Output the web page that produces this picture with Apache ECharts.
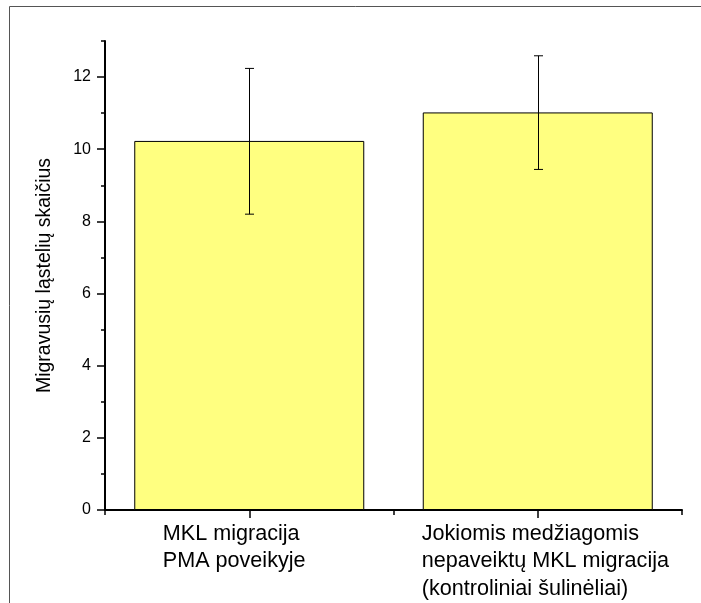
<!DOCTYPE html>
<html>
<head>
<meta charset="utf-8">
<script src="https://cdn.jsdelivr.net/npm/echarts@6/dist/echarts.min.js"></script>
<style>
html,body{margin:0;padding:0;background:#fff;}
#c{width:701px;height:603px;}
</style>
</head>
<body>
<div id="c"></div>
<script>
var categories = ['MKL migracija\nPMA poveikyje', 'Jokiomis medžiagomis\nnepaveiktų MKL migracija\n(kontroliniai šulinėliai)'];
var means = [10.23, 11.02];
var errLow = [8.20, 9.44];
var errHigh = [12.24, 12.59];
var yMajorTicks = [0, 2, 4, 6, 8, 10, 12];
var yTitle = 'Migravusių ląstelių skaičius';

var FONT = '"Liberation Sans", Arial, sans-serif';
var labelShift = [-86.5, -116];   // left edge of the left-aligned label block relative to its tick
var chart = echarts.init(document.getElementById('c'), null, {renderer: 'canvas'});

var errData = categories.map(function (c, i) { return [i, errLow[i], errHigh[i]]; });

var option = {
  backgroundColor: '#ffffff',
  animation: false,
  grid: {left: 105, right: 19, top: 41, bottom: 93, containLabel: false},
  xAxis: [{
    type: 'category',
    data: categories,
    axisLine: {show: true, lineStyle: {color: '#000', width: 2}},
    axisTick: {show: true, alignWithLabel: true, length: 8, lineStyle: {color: '#000', width: 1.5}},
    axisLabel: {show: false},
    splitLine: {show: false}
  }, {
    type: 'category',
    data: categories,
    position: 'bottom',
    axisLine: {show: false},
    axisTick: {show: true, alignWithLabel: false, length: 5, lineStyle: {color: '#000', width: 1.5}},
    axisLabel: {show: false},
    splitLine: {show: false}
  }],
  yAxis: [{
    type: 'value',
    min: 0, max: 13, interval: 1,
    name: yTitle,
    nameLocation: 'middle',
    nameGap: 50,
    nameRotate: 90,
    nameTextStyle: {color: '#000', fontFamily: FONT, fontSize: 19.5},
    axisLine: {show: true, lineStyle: {color: '#000', width: 2}},
    axisTick: {show: true, length: 4, lineStyle: {color: '#000', width: 1.5}},
    axisLabel: {show: false},
    splitLine: {show: false}
  }, {
    type: 'value',
    min: 0, max: 13,
    position: 'left',
    axisLine: {show: false},
    axisTick: {show: true, length: 8, customValues: yMajorTicks, lineStyle: {color: '#000', width: 1.5}},
    axisLabel: {show: true, customValues: yMajorTicks, color: '#000', fontFamily: FONT, fontSize: 16, margin: 14},
    splitLine: {show: false}
  }],
  series: [{
    type: 'bar',
    data: means,
    barWidth: 230,
    itemStyle: {color: '#ffff80', borderColor: '#000', borderWidth: 1},
    z: 2
  }, {
    type: 'custom',
    data: errData,
    z: 5,
    renderItem: function (params, api) {
      var x = api.value(0);
      var lo = api.coord([x, api.value(1)]);
      var hi = api.coord([x, api.value(2)]);
      var cx = Math.round(lo[0]) + 0.5;
      var hw = 4.5;
      var s = {stroke: '#000', lineWidth: 1};
      return {
        type: 'group',
        children: [
          {type: 'line', shape: {x1: cx, y1: hi[1], x2: cx, y2: lo[1]}, style: s},
          {type: 'line', shape: {x1: cx - hw, y1: hi[1], x2: cx + hw, y2: hi[1]}, style: s},
          {type: 'line', shape: {x1: cx - hw, y1: lo[1], x2: cx + hw, y2: lo[1]}, style: s}
        ]
      };
    }
  }]
};
chart.setOption(option);

// category labels: left-aligned text blocks placed from the axis scale
var zeroY = chart.convertToPixel({yAxisIndex: 0}, 0);
var graphics = [{
  type: 'rect',
  shape: {x: 9.5, y: 6.5, width: 800, height: 800},
  style: {fill: 'none', stroke: '#555555', lineWidth: 1},
  silent: true,
  z: 100
}];
categories.forEach(function (c, i) {
  var px = chart.convertToPixel({xAxisIndex: 0}, c);
  graphics.push({
    type: 'text',
    x: px + labelShift[i],
    y: zeroY + 10,
    silent: true,
    style: {
      text: c,
      fill: '#000',
      font: '21.6px ' + FONT,
      lineHeight: 27.5,
      align: 'left',
      verticalAlign: 'top'
    }
  });
});
chart.setOption({graphic: graphics});
</script>
</body>
</html>
